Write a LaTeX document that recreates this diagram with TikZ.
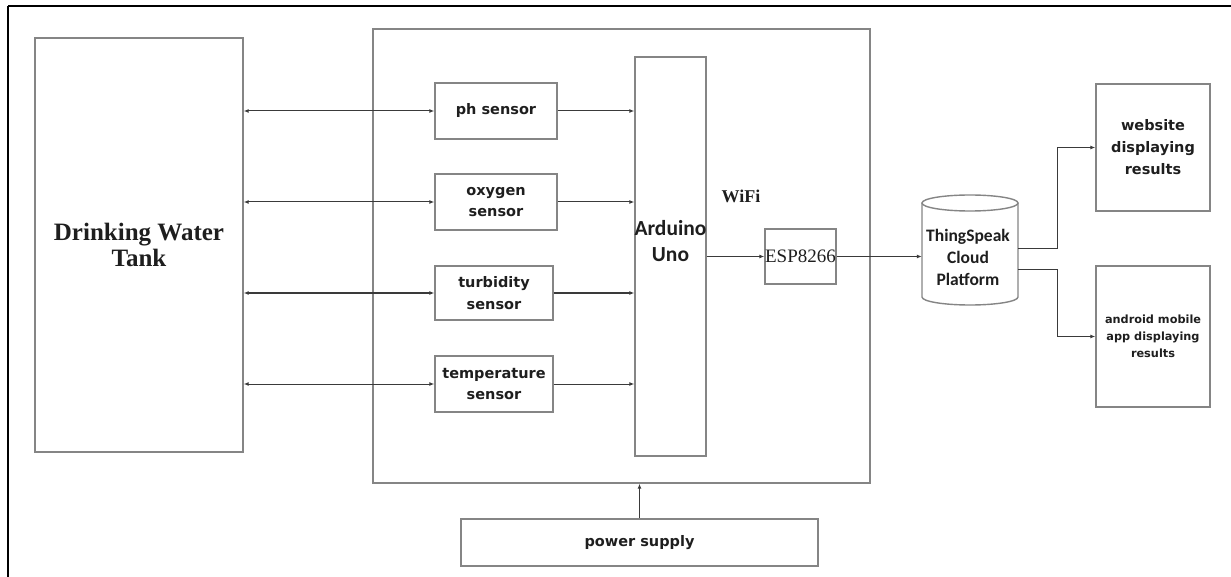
\documentclass[tikz,border=0pt]{standalone}
\usepackage{fontspec}
\usetikzlibrary{arrows.meta}
\newfontfamily\dvfont{DejaVu Sans}
\newfontfamily\calfont{Carlito}
\newfontfamily\tmsfont{Liberation Serif}
\definecolor{boxgray}{HTML}{858585}
\definecolor{linegray}{HTML}{3A3A3A}
\definecolor{txtdark}{HTML}{1E1E1E}
\tikzset{
  box/.style={draw=boxgray, line width=1.4pt, inner sep=0pt, align=center, text=txtdark},
  sens/.style={box, font=\dvfont\bfseries\fontsize{14.5}{21.5}\selectfont},
  conn/.style={draw=linegray, line width=1pt, -{Latex[length=5pt,width=4pt]}},
  conn2/.style={draw=linegray, line width=1pt, {Latex[length=5pt,width=4pt]}-{Latex[length=5pt,width=4pt]}},
}
\begin{document}
\begin{tikzpicture}[x=1pt,y=-1pt]
\path[use as bounding box] (0,0) rectangle (1231,577);
% outer frame lines
\draw[black, line width=2pt] (8,6) -- (1231,6);
\draw[black, line width=2pt] (8,6) -- (8,577);

% tank
\node[box, minimum width=208pt, minimum height=414pt,
      font=\tmsfont\bfseries\fontsize{25}{26}\selectfont] (tank) at (139,245) {Drinking Water\\Tank};

% main enclosure
\node[box, minimum width=497pt, minimum height=454pt] (main) at (621.5,256) {};

% sensors
\node[sens, minimum width=122pt, minimum height=56pt] (ph) at (496,111) {ph sensor};
\node[sens, minimum width=122pt, minimum height=56pt] (oxy) at (496,202) {oxygen\\sensor};
\node[sens, minimum width=118pt, minimum height=54pt] (turb) at (494,293) {turbidity\\sensor};
\node[sens, minimum width=118pt, minimum height=56pt] (temp) at (494,384) {temperature\\sensor};

% arduino
\node[box, minimum width=71pt, minimum height=399pt] (ard) at (670.5,256.5) {};
\node[font=\calfont\bfseries\fontsize{21.5}{26}\selectfont, text=txtdark, align=center] (ardtxt) at (670.5,241) {Arduino\\Uno};

% wifi label
\node[font=\tmsfont\bfseries\fontsize{18}{20}\selectfont, text=txtdark] (wifi) at (741,196) {WiFi};

% esp
\node[box, minimum width=71pt, minimum height=55pt, font=\tmsfont\fontsize{19}{21}\selectfont] (esp) at (800.5,256.5) {ESP8266};

% cloud cylinder
\node[inner sep=0pt, minimum width=96pt, minimum height=110pt] (cloud) at (970,250) {};
\draw[boxgray, line width=1.4pt, fill=white] (922,203) -- (922,297) arc (180:0:48 and 8) -- (1018,203);
\draw[boxgray, line width=1.4pt] (970,203) ellipse (48 and 8);
\node[font=\calfont\bfseries\fontsize{17.5}{22}\selectfont, text=txtdark, align=center] (cloudtxt) at (968,257) {ThingSpeak\\Cloud\\Platform};

% outputs
\node[box, minimum width=114pt, minimum height=127pt, font=\dvfont\bfseries\fontsize{14.5}{22}\selectfont] (web) at (1153,147.5) {website\\displaying\\results};
\node[box, minimum width=114pt, minimum height=141pt, font=\dvfont\bfseries\fontsize{11.3}{17}\selectfont] (app) at (1153,336.5) {android mobile\\app displaying\\results};

% power supply
\node[sens, minimum width=357pt, minimum height=47pt] (power) at (639.5,542.5) {power supply};

% connectors: tank <-> sensors
\foreach \s in {ph,oxy,turb,temp}{
  \draw[conn2] (\s.west -| tank.east) -- (\s.west);
  \draw[conn] (\s.east) -- (\s.east -| ard.west);
}
\draw[conn] (esp.west -| ard.east) -- (esp.west);
\draw[conn] (esp.east) -- (esp.east -| cloud.west);
\draw[conn] ([yshift=1pt]cloud.east) -- ++(39,0) |- (web.west);
\draw[conn] ([yshift=-20pt]cloud.east) -- ++(39,0) |- (app.west);
\draw[conn] (power.north) -- (power.north |- main.south);
\end{tikzpicture}
\end{document}
